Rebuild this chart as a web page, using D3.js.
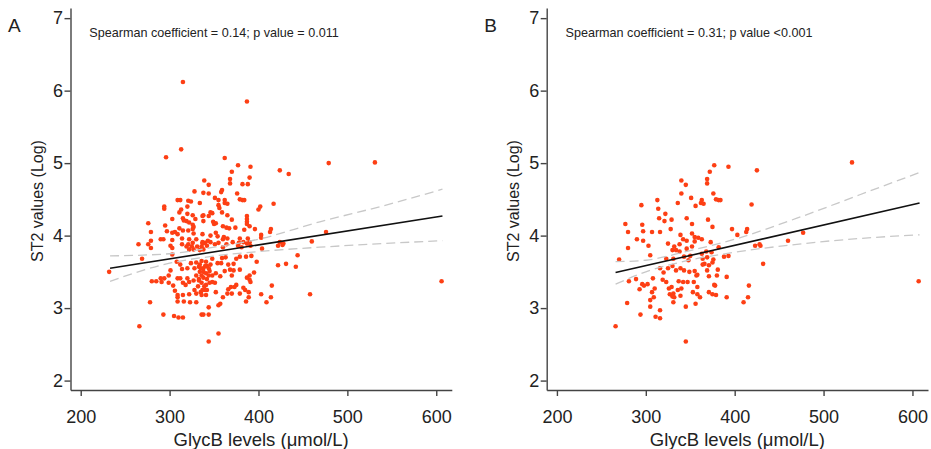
<!DOCTYPE html>
<html>
<head>
<meta charset="utf-8">
<script src="https://cdn.jsdelivr.net/npm/d3@7"></script>
<style>
  body { margin: 0; background: #fff; }
  text { font-family: "Liberation Sans", Arial, Helvetica, sans-serif; fill: #222; }
</style>
</head>
<body>
<div id="chart"></div>
<script>
// GlycB (umol/L) vs ST2 (log) -- panel A, all patients
var pointsA = [
  [315,6.12],[387,5.85],[313,5.19],[296,5.08],[362,5.07],[377,4.97],[391,4.95],[479,5.0],[531,5.01],[424,4.90],
  [434,4.85],[370,4.88],[390,4.80],[368,4.78],[368,4.72],[382,4.71],[388,4.71],[339,4.76],[344,4.70],[359,4.63],
  [358,4.60],[338,4.59],[344,4.58],[376,4.58],[379,4.50],[382,4.49],[384,4.49],[351,4.52],[355,4.49],[362,4.49],
  [362,4.45],[365,4.44],[334,4.45],[355,4.42],[356,4.38],[402,4.40],[400,4.36],[417,4.44],[365,4.28],[359,4.32],
  [346,4.32],[348,4.31],[338,4.28],[344,4.27],[387,4.27],[387,4.23],[387,4.19],[387,4.16],[370,4.22],[349,4.19],
  [352,4.17],[350,4.16],[338,4.20],[360,4.13],[364,4.11],[367,4.10],[374,4.11],[390,4.13],[384,4.08],[396,4.09],
  [414,4.09],[413,4.05],[337,4.02],[346,4.00],[352,4.04],[354,3.99],[361,3.98],[365,3.96],[360,3.95],[371,3.91],
  [379,3.96],[378,3.90],[388,3.96],[390,3.91],[403,4.01],[403,3.97],[424,3.91],[428,3.89],[460,3.92],
  [328,4.61],[309,4.49],[312,4.49],[321,4.48],[324,4.47],[294,4.40],[294,4.37],[320,4.40],[313,4.36],[311,4.32],
  [320,4.30],[326,4.28],[329,4.23],[337,4.27],[303,4.23],[315,4.24],[316,4.21],[319,4.20],[322,4.18],[326,4.15],
  [276,4.17],[295,4.14],[279,4.05],[297,4.06],[303,4.04],[306,4.05],[309,4.02],[311,4.10],[315,4.07],[321,4.07],
  [327,4.12],[326,4.09],[290,3.95],[293,3.95],[303,3.94],[314,3.96],[322,3.95],[330,3.95],[337,3.91],[327,4.03],
  [265,3.88],[276,3.88],[321,3.88],[326,3.90],[340,3.90],[343,3.93],[279,3.93],
  [279,3.83],[301,3.86],[303,3.83],[314,3.88],[319,3.85],[325,3.85],[331,3.85],[336,3.85],[322,3.81],[327,3.81],
  [334,3.80],[269,3.68],[232,3.50],[303,3.74],[308,3.64],[312,3.60],[314,3.54],[320,3.55],[324,3.62],[330,3.63],
  [333,3.57],[328,3.55],[334,3.50],[338,3.55],[342,3.58],[301,3.52],[299,3.45],[294,3.41],[290,3.41],[291,3.36],
  [285,3.37],[280,3.37],[299,3.35],[304,3.31],[309,3.41],[312,3.41],[315,3.35],[320,3.41],[322,3.36],[318,3.32],
  [306,3.24],[309,3.18],[309,3.15],[315,3.18],[322,3.19],[309,3.09],[316,3.09],[323,3.08],[330,3.08],[278,3.08],
  [293,2.91],[305,2.89],[310,2.87],[315,2.87],[266,2.75],[336,2.91],
  [330,3.45],[333,3.40],[336,3.35],[339,3.30],[342,3.25],[335,3.22],[330,3.20],[328,3.25],[341,3.18],[345,3.35],
  [338,3.42],[332,3.30],[327,3.38],[344,3.45],
  [337,3.89],[342,3.86],[346,3.91],[351,3.88],[355,3.90],[338,3.81],[360,3.84],[364,3.88],[377,3.86],[381,3.84],
  [387,3.89],[391,3.86],[383,3.91],[404,3.82],[422,3.86],[427,3.87],[444,3.73],[422,3.59],[431,3.61],[442,3.57],
  [398,3.64],[392,3.72],[386,3.71],[379,3.71],[375,3.68],[372,3.61],[366,3.60],[363,3.70],[359,3.69],[358,3.62],
  [354,3.62],[348,3.68],[341,3.64],[336,3.65],
  [395,3.49],[390,3.45],[391,3.36],[387,3.42],[383,3.28],[385,3.25],[389,3.22],[389,3.15],[386,3.09],[379,3.20],
  [375,3.32],[373,3.29],[370,3.45],[369,3.29],[366,3.26],[370,3.20],[365,3.20],[360,3.15],[357,3.06],[355,3.04],
  [352,3.22],[351,3.35],[348,3.36],[342,3.40],[341,3.32],[340,3.25],[337,3.25],[336,3.18],[344,3.01],[338,2.91],
  [344,2.91],[355,2.65],[344,2.54],[403,3.19],[414,3.15],[409,3.08],[415,3.31],[458,3.19],[390,3.39],[357,3.44],
  [352,3.48],[345,3.51],[362,3.51],[368,3.53],[379,3.53],[372,3.52],
  [335,3.55],[338,3.50],[334,3.60],[340,3.58],[344,3.55],[348,3.45],[336,3.45],[346,3.60],[341,3.48],[333,3.38],
  [476,4.05],[606,3.37]
];

// panel B
var pointsB = [
  [295,4.42],[277,4.16],[296,4.15],[280,4.05],[297,4.06],[290,3.95],[280,3.83],[270,3.67],[281,3.37],[289,3.40],
  [296,3.33],[298,3.31],[293,3.26],[279,3.07],[294,2.91],[266,2.75],
  [377,4.97],[372,4.88],[369,4.78],[369,4.72],[340,4.76],[345,4.70],[340,4.58],[351,4.52],[363,4.49],[362,4.45],
  [365,4.44],[376,4.58],[336,4.45],[356,4.41],[313,4.49],[314,4.37],[322,4.30],[315,4.24],[321,4.20],[329,4.22],
  [346,4.24],[352,4.16],[370,4.22],[375,4.12],[307,4.05],[316,4.05],[328,4.09],[339,4.01],[342,3.95],[352,4.03],
  [355,3.98],[359,3.97],[363,3.95],[373,3.91],[297,3.93],[303,3.86],[325,3.89],[332,3.85],[338,3.88],[346,3.93],
  [346,3.82],[352,3.85],[355,3.92],[330,3.80],[334,3.80],[338,3.78],[368,3.78],[363,3.75],[374,3.77],[305,3.73],
  [323,3.68],[331,3.68],[343,3.71],[348,3.66],[350,3.72],[364,3.68],[369,3.70],[366,3.61],[371,3.59],[375,3.63],
  [325,3.55],[316,3.55],[320,3.49],[330,3.58],[334,3.52],[339,3.55],[343,3.52],[349,3.50],[355,3.51],[357,3.45],
  [364,3.60],[369,3.52],[371,3.44],[308,3.41],[302,3.33],[310,3.27],[307,3.22],[319,3.39],[323,3.36],[326,3.27],
  [329,3.29],[331,3.20],[332,3.15],[336,3.25],[340,3.27],[337,3.37],[342,3.36],[347,3.36],[354,3.36],[358,3.46],
  [358,3.29],[358,3.19],[353,3.22],[361,3.15],[371,3.22],[375,3.19],[377,3.32],[327,3.19],[330,3.16],[339,3.17],
  [331,3.08],[345,3.02],[356,3.06],[311,2.88],[316,2.86],[305,3.02],[316,2.97],[345,2.54],[309,3.15],[305,3.11],
  [393,4.95],[425,4.90],[379,4.50],[382,4.49],[384,4.49],[419,4.43],[397,4.09],[403,4.01],[414,4.09],[413,4.05],
  [382,3.84],[423,3.86],[428,3.88],[429,3.86],[460,3.93],[432,3.61],[376,3.67],[388,3.71],[393,3.72],[381,3.53],
  [380,3.45],[391,3.43],[378,3.31],[416,3.31],[379,3.18],[391,3.15],[415,3.15],[410,3.08],
  [532,5.01],[477,4.04],[607,3.37]
];

// fitted line end points and 95% CI band
var fitA = [[233,3.55],[607,4.27]];
var bandXA = [233, 300, 345, 400, 469, 540, 607];
var upperA = [3.72, 3.75, 3.83, 3.95, 4.19, 4.41, 4.64];
var lowerA = [3.37, 3.62, 3.71, 3.78, 3.84, 3.89, 3.93];

var fitB = [[266,3.49],[608,4.45]];
var bandXB = [266, 300, 345, 400, 470, 540, 608];
var upperB = [3.64, 3.66, 3.78, 3.95, 4.24, 4.56, 4.87];
var lowerB = [3.33, 3.50, 3.65, 3.77, 3.88, 3.96, 4.01];

var xTicks = [200, 300, 400, 500, 600];
var yTicks = [2, 3, 4, 5, 6, 7];
var panelLabels = ["A", "B"];
var notes = ["Spearman coefficient = 0.14; p value = 0.011", "Spearman coefficient = 0.31; p value <0.001"];
var xTitle = "GlycB levels (\u03bcmol/L)";
var yTitle = "ST2 values (Log)";

var W = 931, H = 449;
var svg = d3.select("#chart").append("svg")
  .attr("width", W)
  .attr("height", H);

var panels = [
  {left: 70.5, points: pointsA, fit: fitA, bx: bandXA, up: upperA, lo: lowerA},
  {left: 546.7, points: pointsB, fit: fitB, bx: bandXB, up: upperB, lo: lowerB}
];

var plotTop = 8, plotBottom = 390, plotW = 381.3;

panels.forEach(function(p, i) {
  var g = svg.append("g").attr("transform", "translate(" + p.left + "," + plotTop + ")");
  var h = plotBottom - plotTop;

  var x = d3.scaleLinear().domain([188.5, 617.5]).range([0, plotW]);
  var y = d3.scaleLinear().domain([1.87, 7.14]).range([h, 0]);

  // axes
  var ya = g.append("g")
    .call(d3.axisLeft(y).tickValues(yTicks).tickFormat(d3.format("d"))
      .tickSize(6).tickSizeOuter(0).tickPadding(1.5));
  var xa = g.append("g")
    .attr("transform", "translate(0," + h + ")")
    .call(d3.axisBottom(x).tickValues(xTicks).tickFormat(d3.format("d"))
      .tickSize(6).tickSizeOuter(0).tickPadding(14));
  [ya, xa].forEach(function(a) {
    a.select(".domain").attr("stroke", "#444").attr("stroke-width", 1.4);
    a.selectAll(".tick line").attr("stroke", "#444").attr("stroke-width", 1.4);
    a.selectAll(".tick text")
      .style("font-size", "18px")
      .style("font-family", "'Liberation Sans', Arial, sans-serif")
      .attr("fill", "#222");
  });

  // scatter
  g.selectAll("circle.pt")
    .data(p.points)
    .enter()
    .append("circle")
    .attr("class", "pt")
    .attr("cx", function(d) { return x(d[0]); })
    .attr("cy", function(d) { return y(d[1]); })
    .attr("r", 2.3)
    .attr("fill", "#fd3f14");

  // CI band
  var band = d3.line()
    .x(function(d) { return x(d[0]); })
    .y(function(d) { return y(d[1]); })
    .curve(d3.curveMonotoneX);

  [p.up, p.lo].forEach(function(arr) {
    g.append("path")
      .datum(p.bx.map(function(v, k) { return [v, arr[k]]; }))
      .attr("d", band)
      .attr("fill", "none")
      .attr("stroke", "#c8c8c8")
      .attr("stroke-width", 1.3)
      .attr("stroke-dasharray", "9,5");
  });

  // fitted line
  g.append("path")
    .datum(p.fit)
    .attr("d", band)
    .attr("fill", "none")
    .attr("stroke", "#111")
    .attr("stroke-width", 1.6);

  // texts
  g.append("text")
    .attr("x", 18.8)
    .attr("y", 37.3 - plotTop)
    .style("font-size", "12.6px")
    .text(notes[i]);

  g.append("text")
    .attr("x", plotW / 2)
    .attr("y", 446 - plotTop)
    .attr("text-anchor", "middle")
    .style("font-size", "18.5px")
    .text(xTitle);

  g.append("text")
    .attr("transform", "rotate(-90)")
    .attr("x", -(201 - plotTop))
    .attr("y", -28)
    .attr("text-anchor", "middle")
    .style("font-size", "16px")
    .text(yTitle);

  svg.append("text")
    .attr("x", p.left - 62.5)
    .attr("y", 32)
    .style("font-size", "19px")
    .text(panelLabels[i]);
});
</script>
</body>
</html>
